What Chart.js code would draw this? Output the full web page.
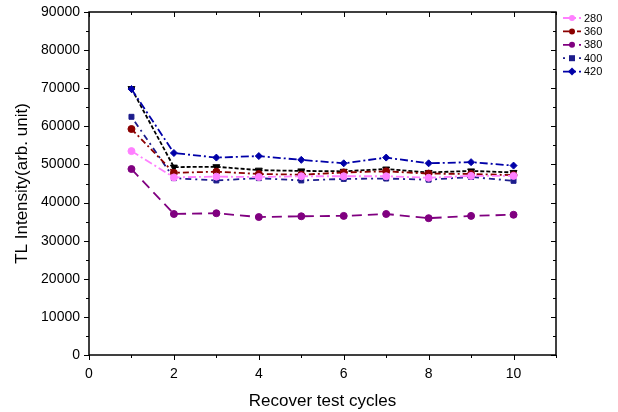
<!DOCTYPE html>
<html lang="en">
<head>
    <meta charset="UTF-8">
    <script src="https://cdn.jsdelivr.net/npm/chart.js"></script>
    <title>TL Intensity</title>
    <style>
        body { margin: 0; background: #fff; }
        #box { width: 618px; height: 412px; }
    </style>
</head>
<body>
    <div id="box">
      <canvas id="grafico1"></canvas>
    </div>

    <script>
        // recover test cycles
        const ciclos = [1, 2, 3, 4, 5, 6, 7, 8, 9, 10]
        const s280 = [53500, 46600, 46800, 46700, 46900, 46900, 46900, 46500, 47000, 47000]
        const s360 = [59300, 47800, 48100, 47500, 47300, 47900, 48200, 47600, 47500, 47200]
        const s380 = [48800, 37000, 37200, 36200, 36400, 36500, 37000, 35900, 36500, 36800]
        const s400 = [62500, 46400, 45800, 46400, 45800, 46200, 46300, 46000, 46700, 45700]
        const s420 = [69800, 53000, 51800, 52200, 51200, 50300, 51800, 50300, 50600, 49700]
        const sExtra = [69900, 49300, 49400, 48500, 48300, 48200, 48800, 47900, 48300, 47900]
        const nomes = ['280', '360', '380', '400', '420', '']
        const xTicks = [0, 2, 4, 6, 8, 10]
        const yTicks = [0, 10000, 20000, 30000, 40000, 50000, 60000, 70000, 80000, 90000]

        const pts = arr => arr.map((v, i) => ({ x: ciclos[i], y: v }))

        const serie = (label, dados, cor, dash, ponto, rot) => ({
          label: label,
          data: pts(dados),
          borderColor: cor,
          backgroundColor: cor,
          borderWidth: 1.8,
          borderDash: dash,
          pointStyle: ponto,
          pointRotation: rot || 0,
          pointRadius: ponto === 'triangle' ? 4 : 3.5,
          pointBorderWidth: 1,
          tension: 0
        })

        const ds = [
          serie(nomes[0], s280, '#ff80ff', [8, 3, 2, 3], 'circle'),
          serie(nomes[1], s360, '#8b0000', [6, 3, 2, 3], 'circle'),
          serie(nomes[2], s380, '#800080', [10, 6], 'circle'),
          serie(nomes[3], s400, '#1c1c8c', [2, 4, 6, 4], 'rect'),
          serie(nomes[4], s420, '#0000a8', [8, 3, 2, 3], 'rectRot'),
          serie(nomes[5], sExtra, '#000000', [4, 2], 'triangle', 180)
        ]

        // frame + tick marks like origin plots
        const moldura = {
          id: 'moldura',
          afterDraw(chart) {
            const c = chart.ctx, a = chart.chartArea
            const sx = chart.scales.x, sy = chart.scales.y
            c.save()
            c.strokeStyle = '#000'
            c.lineWidth = 1.5
            c.strokeRect(a.left, a.top, a.right - a.left, a.bottom - a.top)
            c.lineWidth = 1
            c.beginPath()
            for (let v = 0; v <= 11; v++) {
              const px = Math.round(sx.getPixelForValue(v)) + 0.5
              const len = v % 2 === 0 ? 5 : 3
              c.moveTo(px, a.bottom); c.lineTo(px, a.bottom + len)
              c.moveTo(px, a.top); c.lineTo(px, a.top + len)
            }
            for (let v = 0; v <= 90000; v += 5000) {
              const py = Math.round(sy.getPixelForValue(v)) + 0.5
              const len = v % 10000 === 0 ? 5 : 3
              c.moveTo(a.left, py); c.lineTo(a.left - len, py)
              c.moveTo(a.right, py); c.lineTo(a.right - len, py)
            }
            c.stroke()

            // legend
            let y = 18
            c.font = '11px "Liberation Sans", Arial, sans-serif'
            c.textBaseline = 'middle'
            chart.data.datasets.forEach(d => {
              if (!d.label) return
              c.strokeStyle = d.borderColor
              c.fillStyle = d.borderColor
              c.lineWidth = 1.8
              c.setLineDash(d.borderDash)
              c.beginPath(); c.moveTo(563, y); c.lineTo(581, y); c.stroke()
              c.setLineDash([])
              const cx = 572, r = 3
              c.beginPath()
              if (d.pointStyle === 'circle') c.arc(cx, y, r, 0, Math.PI * 2)
              else if (d.pointStyle === 'rect') c.rect(cx - r, y - r, 2 * r, 2 * r)
              else { c.moveTo(cx, y - r - 1); c.lineTo(cx + r + 1, y); c.lineTo(cx, y + r + 1); c.lineTo(cx - r - 1, y); c.closePath() }
              c.fill()
              c.fillStyle = '#000'
              c.fillText(d.label, 584, y + 0.5)
              y += 13.4
            })
            c.restore()
          }
        }

        const ctx = document.getElementById('grafico1')
        const grafico1 = new Chart(ctx, {
          type: 'line',
          data: { datasets: ds },
          options: {
            responsive: true,
            maintainAspectRatio: false,
            animation: false,
            layout: { padding: { left: 0, right: 62, top: 12, bottom: 0 } },
            plugins: { legend: { display: false }, tooltip: { enabled: false } },
            scales: {
              x: {
                type: 'linear',
                min: 0,
                max: 11,
                afterFit: s => { s.height = 57; s.paddingLeft = 0; s.paddingRight = 0 },
                afterBuildTicks: s => { s.ticks = xTicks.map(v => ({ value: v })) },
                grid: { display: false, drawTicks: false },
                border: { display: false },
                ticks: { color: '#000', padding: 11, font: { size: 14, family: '"Liberation Sans", Arial' } },
                title: {
                  display: true,
                  text: 'Recover test cycles',
                  color: '#000',
                  font: { size: 17, family: '"Liberation Sans", Arial' },
                  padding: { top: 0, bottom: 0 }
                }
              },
              y: {
                min: 0,
                max: 90000,
                afterFit: s => { s.width = 89; s.paddingTop = 0; s.paddingBottom = 0 },
                afterBuildTicks: s => { s.ticks = yTicks.map(v => ({ value: v })) },
                grid: { display: false, drawTicks: false },
                border: { display: false },
                ticks: { color: '#000', padding: 9, font: { size: 14, family: '"Liberation Sans", Arial' }, callback: v => String(v) },
                title: {
                  display: true,
                  text: 'TL Intensity(arb. unit)',
                  color: '#000',
                  font: { size: 17, family: '"Liberation Sans", Arial' },
                  padding: { top: 12, bottom: 0 }
                }
              }
            }
          },
          plugins: [moldura]
        })
      </script>
</body>
</html>
